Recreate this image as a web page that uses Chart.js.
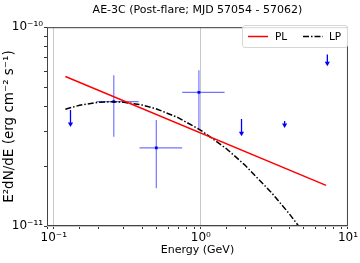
<!DOCTYPE html>
<html>
<head>
<meta charset="utf-8">
<script src="https://cdn.jsdelivr.net/npm/chart.js@4/dist/chart.umd.min.js"></script>
<style>
  html, body { margin: 0; padding: 0; background: #fff; }
  #wrap { position: relative; width: 360px; height: 263px; }
  #legend {
    position: absolute; left: 242px; top: 25px; width: 104px; height: 21px;
    border: 1px solid #d6d6d6; border-radius: 3px; background: rgba(255,255,255,0.8);
    font: 10.5px "DejaVu Sans", sans-serif; color: #000;
  }
  #legend svg { position: absolute; top: 0; }
  #legend span { position: absolute; top: 4px; }
</style>
</head>
<body>
<div id="wrap">
  <canvas id="sed" width="360" height="263"></canvas>
  <div id="legend">
    <svg style="left:5px" width="20" height="21"><line x1="0" y1="10.5" x2="20" y2="10.5" stroke="#ff0000" stroke-width="1.5"/></svg>
    <span style="left:32px">PL</span>
    <svg style="left:60px" width="20" height="21"><line x1="0" y1="10.5" x2="20" y2="10.5" stroke="#000" stroke-width="1.5" stroke-dasharray="6 2 1.5 2"/></svg>
    <span style="left:86px">LP</span>
  </div>
</div>
<script>
// flux points (GeV, erg cm^-2 s^-1)
const ptE = [0.256, 0.498, 0.97];
const ptEmin = [0.195, 0.383, 0.747];
const ptEmax = [0.378, 0.747, 1.45];
const ptFlux = [4.22e-11, 2.47e-11, 4.70e-11];
const ptFluxLo = [2.81e-11, 1.55e-11, 3.03e-11];
const ptFluxHi = [5.74e-11, 3.41e-11, 6.08e-11];

// upper limits: value and arrow head
const ulE = [0.130, 1.89, 3.71, 7.24];
const ulFlux = [3.83e-11, 3.45e-11, 3.37e-11, 7.29e-11];
const ulHead = [3.26e-11, 2.93e-11, 3.22e-11, 6.59e-11];

// power law model
const plE = [0.12, 7.1];
const plFlux = [5.65e-11, 1.60e-11];

// log parabola model
const lpE = [0.12, 0.15, 0.2, 0.25, 0.3, 0.4, 0.5, 0.7, 1, 1.5, 2, 3, 4, 5, 6, 7.1];
const lpFlux = [3.87e-11, 4.05e-11, 4.19e-11, 4.22e-11, 4.19e-11, 4.06e-11, 3.88e-11, 3.51e-11,
                3.03e-11, 2.44e-11, 2.02e-11, 1.48e-11, 1.15e-11, 9.25e-12, 7.66e-12, 6.4e-12];

const xTicks = [0.1, 1, 10];
const yTicks = [1e-11, 1e-10];
const xLabels = ['10\u207B\u00B9', '10\u2070', '10\u00B9'];
const yLabels = ['10\u207B\u00B9\u00B9', '10\u207B\u00B9\u2070'];

const FONT = '"DejaVu Sans", sans-serif';
const barColor = 'rgba(0, 0, 255, 0.55)';

const isMajor = v => Math.abs(Math.log10(v) - Math.round(Math.log10(v))) < 1e-6;
const labelFor = (v, ticks, labels) => {
  const i = ticks.findIndex(t => Math.abs(Math.log10(t) - Math.log10(v)) < 1e-6);
  return i < 0 ? '' : labels[i];
};

function seg(points, color, width) {
  return {
    data: points, showLine: true, borderColor: color, borderWidth: width,
    pointRadius: 0, pointHoverRadius: 0
  };
}

const datasets = [
  {
    label: 'PL', data: plE.map((e, i) => ({ x: e, y: plFlux[i] })),
    showLine: true, borderColor: '#ff0000', borderWidth: 1.5, pointRadius: 0
  },
  {
    label: 'LP', data: lpE.map((e, i) => ({ x: e, y: lpFlux[i] })),
    showLine: true, borderColor: '#000', borderWidth: 1.5, borderDash: [6, 2, 1.5, 2], pointRadius: 0
  },
  {
    label: 'points', data: ptE.map((e, i) => ({ x: e, y: ptFlux[i] })),
    pointStyle: 'rect', pointRadius: 2, backgroundColor: '#0000ff', borderColor: '#0000ff', borderWidth: 0
  }
];

// error bars
ptE.forEach((e, i) => {
  datasets.push(seg([{ x: ptEmin[i], y: ptFlux[i] }, { x: ptEmax[i], y: ptFlux[i] }], barColor, 1.2));
  datasets.push(seg([{ x: e, y: ptFluxLo[i] }, { x: e, y: ptFluxHi[i] }], barColor, 1.2));
});

// upper limit arrows
ulE.forEach((e, i) => {
  datasets.push({
    data: [{ x: e, y: ulFlux[i] }, { x: e, y: ulHead[i] }],
    showLine: true, borderColor: '#0000ff', borderWidth: 1.3,
    pointRadius: [0, 3], pointStyle: 'triangle', rotation: 180,
    pointBackgroundColor: '#0000ff', pointBorderColor: '#0000ff', pointBorderWidth: 0
  });
});

// frame round the plot area
const frame = {
  id: 'frame',
  afterDraw(chart) {
    const { ctx, chartArea: a } = chart;
    ctx.save();
    ctx.strokeStyle = '#444';
    ctx.lineWidth = 1;
    ctx.strokeRect(a.left + 0.5, a.top + 0.5, a.right - a.left - 1, a.bottom - a.top - 1);
    ctx.restore();
  }
};

new Chart(document.getElementById('sed'), {
  type: 'scatter',
  data: { datasets },
  options: {
    responsive: false,
    animation: false,
    devicePixelRatio: 1,
    layout: { padding: { left: 0, right: 12, top: 0, bottom: 0 } },
    plugins: {
      legend: { display: false },
      tooltip: { enabled: false },
      title: {
        display: true, fullSize: false,
        text: 'AE-3C (Post-flare; MJD 57054 - 57062)',
        color: '#000', font: { family: FONT, size: 11, weight: 'normal' },
        padding: { top: 4, bottom: 10 }
      }
    },
    scales: {
      x: {
        type: 'logarithmic', min: 0.09, max: 10,
        afterFit: s => { s.height = 37; },
        border: { display: false },
        grid: {
          color: c => isMajor(c.tick.value) ? '#c8c8c8' : 'rgba(0,0,0,0)',
          tickColor: '#333', tickLength: 3, lineWidth: 1
        },
        ticks: {
          autoSkip: false, maxRotation: 0, padding: 2, color: '#000',
          font: { family: FONT, size: 12 },
          callback: v => labelFor(v, xTicks, xLabels)
        },
        title: {
          display: true, text: 'Energy (GeV)', color: '#000',
          font: { family: FONT, size: 11 }, padding: { top: 0, bottom: 6 }
        }
      },
      y: {
        type: 'logarithmic', min: 1e-11, max: 1e-10,
        afterFit: s => { s.width = 47; },
        border: { display: false },
        grid: {
          color: c => isMajor(c.tick.value) ? '#c8c8c8' : 'rgba(0,0,0,0)',
          tickColor: '#333', tickLength: 3, lineWidth: 1
        },
        ticks: {
          autoSkip: false, padding: 1, color: '#000',
          font: { family: FONT, size: 12 },
          callback: v => labelFor(v, yTicks, yLabels)
        },
        title: {
          display: true, text: 'E\u00B2dN/dE (erg cm\u207B\u00B2 s\u207B\u00B9)', color: '#000',
          font: { family: FONT, size: 13.5 }, padding: { top: 1, bottom: 0 }
        }
      }
    }
  },
  plugins: [frame]
});
</script>
</body>
</html>
